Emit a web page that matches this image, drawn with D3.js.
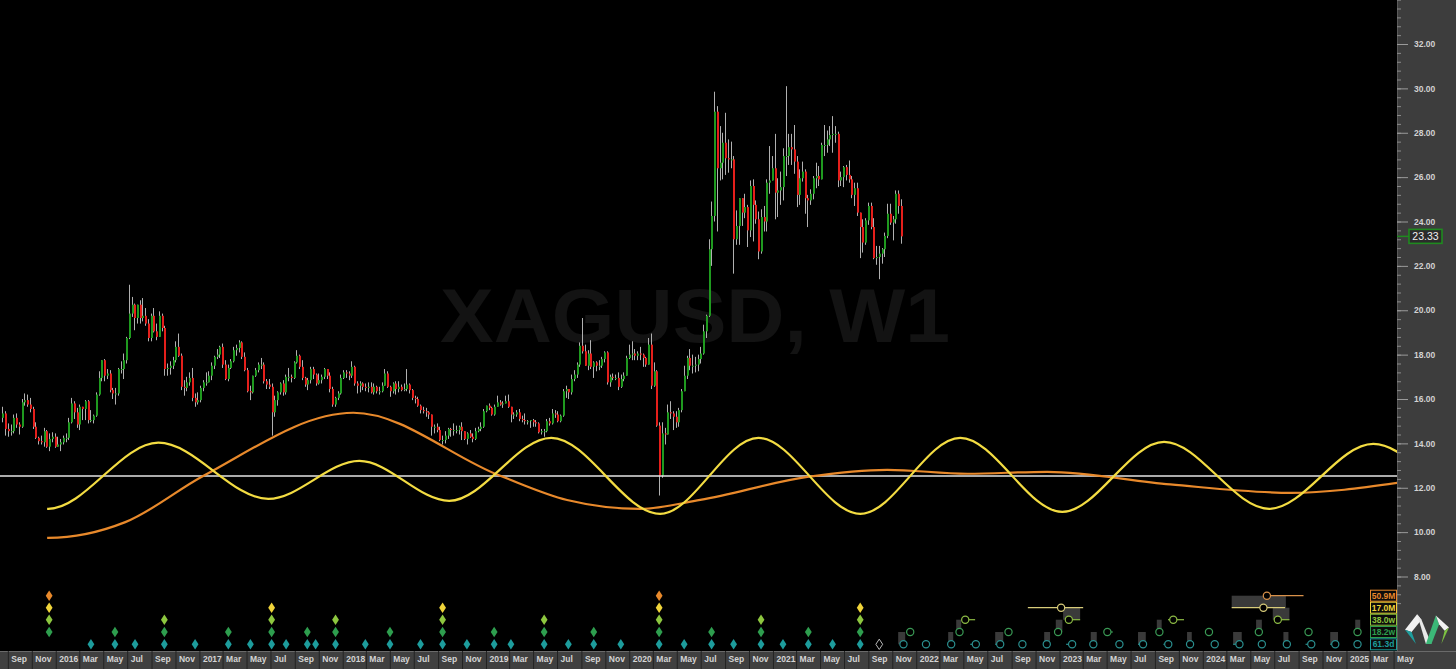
<!DOCTYPE html>
<html>
<head>
  <meta charset="utf-8" />
  <title>XAGUSD, W1</title>
  <script src="https://d3js.org/d3.v7.min.js"></script>
</head>
<body>
  <div id='graph'></div>
</body>
<style>
  body { margin: 0; background: #000; overflow: hidden; }
  svg { display: block; }
  text { font-family: 'Liberation Sans', Arial, sans-serif; }
</style>
<script>
  // weekly bars, first one is the week of 17 Aug 2015, open = previous close
  const firstOpen = 15.15
  const weekHigh = [
    // 2015
    15.65,15.45,14.90,14.85,15.30,15.35,14.95,16.00,16.25,16.20,16.05,15.65,14.95,14.30,14.35,14.70,14.60,14.45,14.50,14.45,
    // 2016
    14.30,14.20,14.35,14.45,15.15,16.05,15.90,15.60,15.75,15.65,15.95,15.95,15.50,15.30,16.30,17.25,17.75,17.80,17.35,17.30,16.50,16.50,17.40,17.70,18.05,18.80,
    21.15,20.60,20.30,20.20,20.45,20.55,20.10,19.60,19.85,20.10,19.40,19.95,19.85,19.30,17.60,17.70,17.90,18.60,18.95,18.05,16.85,17.00,17.20,17.40,16.25,16.30,
    // 2017
    16.60,16.85,17.20,17.25,17.65,17.95,18.25,18.40,18.50,17.75,17.55,17.80,18.35,18.45,18.65,18.60,18.10,17.40,16.60,17.05,17.40,17.65,17.85,17.65,16.90,16.90,
    16.70,16.15,16.35,16.75,16.85,17.10,17.40,17.10,17.70,18.20,18.00,17.75,17.00,16.95,17.45,17.45,17.15,17.15,17.10,17.40,17.35,17.20,16.55,16.10,16.35,17.10,
    // 2018
    17.30,17.30,17.25,17.70,17.50,16.80,16.80,16.75,16.70,16.75,16.75,16.70,16.60,16.55,16.75,17.35,17.25,16.60,16.75,16.80,16.80,16.65,16.70,17.35,16.70,16.45,
    16.15,16.10,15.75,15.65,15.60,15.45,15.30,14.85,14.90,14.75,14.35,14.55,14.70,14.70,14.90,14.80,14.80,14.95,14.45,14.50,14.60,14.45,14.70,14.75,14.95,15.55,
    // 2019
    15.70,15.80,15.65,15.75,16.15,15.95,15.90,16.15,16.20,15.65,15.40,15.50,15.55,15.25,15.35,15.05,15.05,15.10,15.05,14.95,14.65,14.65,15.10,15.15,15.55,15.50,
    15.45,15.30,16.45,16.60,16.45,17.10,17.30,17.65,18.55,19.65,18.45,18.20,18.65,17.70,17.70,17.75,17.90,18.15,18.15,17.10,17.15,17.10,17.20,17.10,17.20,17.95,18.45,
    // 2020
    18.60,18.25,18.15,18.35,18.05,17.90,18.75,18.95,17.65,17.30,14.95,14.95,14.70,15.75,15.90,15.45,15.45,15.60,16.45,17.50,17.95,18.25,18.00,17.90,18.00,18.35,
    19.35,19.80,23.20,24.90,29.85,29.20,28.30,28.00,28.90,27.70,27.60,26.95,24.50,25.05,25.05,25.25,24.75,25.85,25.90,24.95,24.45,24.55,24.70,25.90,27.40,26.95,
    // 2021
    27.95,25.95,26.25,27.30,30.10,27.95,27.95,28.35,26.95,26.35,26.70,26.35,25.20,25.45,26.05,26.65,26.50,27.55,28.35,28.10,28.30,28.75,28.30,28.05,
    26.25,26.50,26.55,26.75,26.05,25.75,25.75,24.40,24.10,24.15,24.85,24.85,24.15,22.90,22.90,22.80,23.50,24.80,24.80,24.25,25.40,25.40,25.00
  ]
  const weekLow = [
    // 2015
    14.95,14.35,14.30,14.35,14.45,14.70,14.40,14.70,15.70,15.65,15.40,14.65,14.20,13.95,13.95,13.85,13.80,13.65,14.05,13.80,
    // 2016
    13.85,13.65,13.95,14.05,14.15,14.90,15.10,14.70,14.60,15.05,15.05,14.90,14.95,14.90,15.20,16.15,16.80,16.80,16.90,16.30,16.00,15.75,16.15,17.15,16.90,17.60,
    18.70,19.70,19.10,19.40,19.40,19.50,19.30,18.60,18.60,19.00,18.65,18.80,19.05,17.05,17.05,17.10,17.35,17.65,17.90,16.40,16.15,16.35,16.60,15.90,15.65,15.75,
    // 2017
    15.85,16.35,16.60,16.90,16.85,17.35,17.80,17.85,17.40,16.85,16.80,17.35,17.65,17.95,18.10,17.80,17.25,16.30,15.95,16.25,17.00,17.20,17.35,16.70,16.45,16.45,
    14.35,15.20,15.70,16.20,16.15,16.20,16.80,16.75,16.90,17.60,17.35,16.85,16.55,16.40,16.70,16.90,16.60,16.65,16.70,16.90,16.90,16.30,15.65,15.65,15.95,16.20,
    // 2018
    16.90,16.95,16.85,16.95,16.60,16.25,16.30,16.40,16.35,16.30,16.25,16.20,16.25,16.20,16.30,16.60,16.50,16.10,16.25,16.20,16.30,16.35,16.35,16.35,16.25,15.95,
    15.80,15.65,15.35,15.35,15.20,15.10,14.35,14.45,14.50,14.10,13.95,14.00,14.20,14.30,14.35,14.45,14.40,14.15,14.15,13.95,14.25,14.05,14.15,14.50,14.55,14.70,
    // 2019
    15.40,15.50,15.25,15.25,15.65,15.70,15.60,15.80,15.60,14.95,15.10,15.20,15.00,14.95,14.85,14.85,14.70,14.75,14.75,14.45,14.40,14.30,14.50,14.80,14.85,15.15,
    14.95,14.95,15.20,16.05,16.00,16.20,16.80,16.95,17.45,18.05,17.50,17.30,17.35,16.95,17.25,17.30,17.40,17.65,16.65,16.55,16.85,16.85,16.40,16.50,16.80,17.05,17.80,
    // 2020
    17.75,17.75,17.75,17.75,17.45,17.45,17.55,16.45,16.55,14.75,11.65,12.45,13.95,14.40,15.10,14.60,14.70,14.75,15.40,16.50,16.90,17.30,17.15,17.20,17.25,17.60,
    18.00,18.75,19.70,22.00,24.00,23.55,25.85,25.90,26.10,26.20,26.40,21.65,22.95,22.95,23.80,24.15,22.85,23.30,23.10,23.90,22.30,22.55,23.55,23.55,25.25,25.85,
    // 2021
    24.10,24.20,24.75,24.95,26.05,26.55,26.55,26.15,24.65,24.75,25.80,24.35,23.75,24.75,25.00,25.50,25.60,25.90,26.95,27.10,27.40,27.10,27.55,25.55,
    25.60,25.55,25.85,25.75,25.05,24.70,24.25,22.35,22.60,22.95,23.85,23.65,22.30,22.05,21.40,22.10,22.40,23.25,23.85,23.15,23.90,24.35,23.00
  ]
  const weekClose = [
    // 2015
    15.35,14.65,14.55,14.55,15.15,14.85,14.75,15.85,15.95,15.75,15.55,14.75,14.25,14.10,14.05,14.55,13.85,14.20,14.30,13.85,
    // 2016
    13.95,14.05,14.25,14.25,14.95,15.80,15.40,14.85,15.65,15.55,15.90,15.05,15.05,15.25,16.20,16.95,17.75,17.05,17.15,16.40,16.25,16.25,17.35,17.35,17.75,18.75,
    19.85,20.25,19.65,20.25,19.65,19.75,19.40,18.75,19.75,19.05,18.80,19.75,19.20,17.35,17.40,17.50,17.75,18.35,17.95,16.55,16.50,16.75,16.95,16.05,15.85,15.95,
    // 2017
    16.50,16.75,16.75,17.05,17.50,17.90,18.00,18.35,17.55,16.90,17.40,17.70,18.20,18.30,18.55,17.90,17.30,16.35,16.30,17.05,17.30,17.55,17.55,16.80,16.65,16.55,
    15.40,15.95,16.30,16.70,16.30,17.00,17.00,16.95,17.65,17.95,17.45,16.95,16.65,16.85,17.35,17.10,16.70,16.85,17.00,17.35,17.05,16.45,15.75,16.05,16.25,16.95,
    // 2018
    17.20,17.15,17.05,17.45,16.70,16.60,16.70,16.55,16.50,16.55,16.30,16.55,16.35,16.35,16.60,17.15,16.55,16.35,16.70,16.45,16.55,16.40,16.45,16.65,16.40,16.05,
    16.00,15.70,15.50,15.45,15.40,15.30,14.75,14.75,14.60,14.15,14.15,14.35,14.65,14.60,14.60,14.60,14.75,14.55,14.20,14.45,14.30,14.20,14.55,14.65,14.75,15.45,
    // 2019
    15.70,15.60,15.30,15.65,15.85,15.75,15.80,15.90,15.65,15.30,15.30,15.40,15.10,15.05,15.00,15.00,15.05,14.95,14.90,14.50,14.55,14.55,15.00,14.90,15.35,15.30,
    15.00,15.25,16.35,16.45,16.30,16.90,17.10,17.55,18.40,18.15,17.50,18.05,17.45,17.65,17.50,17.50,17.80,18.10,16.75,17.00,16.95,16.95,16.55,16.90,17.05,17.85,18.00,
    // 2020
    18.05,17.95,18.05,18.00,17.85,17.55,18.45,16.60,17.25,14.80,12.55,14.45,14.40,15.40,15.35,15.20,14.95,15.50,16.35,17.05,17.85,17.50,17.50,17.55,17.80,18.05,
    19.05,19.75,22.75,24.25,28.95,26.40,26.65,27.55,26.85,26.80,26.80,23.20,23.80,25.05,24.40,24.65,23.60,25.60,24.75,24.10,22.65,24.20,24.00,25.75,25.85,26.40,
    // 2021
    25.30,25.40,25.55,26.95,26.95,27.35,27.25,26.70,25.20,25.95,26.25,25.05,24.95,25.25,25.95,26.05,25.90,27.45,27.45,27.70,27.90,27.95,27.95,25.85,
    26.00,26.45,26.10,25.90,25.20,25.50,24.40,23.75,23.05,24.05,24.70,23.75,22.35,22.40,22.55,22.75,23.35,24.35,23.95,24.10,25.25,24.70,23.33
  ]
  const lastPrice = 23.33
  const baseLevel = 12.53

  // cycle curves, [decimal year, price] read at start, peaks and troughs
  const yellowCycle = [
    [2015.940, 11.05], [2015.947, 11.05], [2016.714, 14.03], [2017.481, 11.50], [2018.116, 13.21], [2018.743, 11.41],
    [2019.455, 14.25], [2020.215, 10.82], [2020.899, 14.25], [2021.610, 10.82], [2022.307, 14.25],
    [2023.019, 10.91], [2023.730, 14.07], [2024.462, 11.05], [2025.187, 13.98], [2025.750, 11.00]
  ]
  const orangeCycle = [
    [2015.940, 9.74], [2015.947, 9.74], [2016.484, 10.45], [2017.029, 12.54], [2018.074, 15.38], [2019.099, 12.54],
    [2019.566, 11.45], [2020.075, 11.05], [2020.494, 11.45], [2021.240, 12.49], [2021.798, 12.81],
    [2022.356, 12.63], [2022.914, 12.72], [2023.773, 12.15], [2024.616, 11.77], [2025.355, 12.22]
  ]

  const priceTicks = [8, 10, 12, 14, 16, 18, 20, 22, 24, 26, 28, 30, 32]
  const minorStep = 0.4
  const lastAxisMonth = '2025-05-01'

  // cycle legend, top row to bottom row
  const cycleLabels = ['50.9M', '17.0M', '38.0w', '18.2w', '61.3d']
  const cycleColors = ['#e8892b', '#f0d43a', '#8dc63f', '#2e9e4e', '#1d9c9c']
  const projColors = ['#d8914a', '#d8cc7a', '#8dbb45', '#3a9a55', '#2a8f8f']

  // cycle troughs (diamonds), decimal years
  const orangeTroughs = [2015.954, 2020.208]
  const yellowTroughs = [2015.954, 2017.504, 2018.697, 2020.208, 2021.609]
  const ygTroughs = [2015.954, 2016.756, 2017.504, 2017.950, 2018.697, 2019.406, 2020.208, 2020.917, 2021.609]
  const greenTroughs = [2015.954, 2016.412, 2016.756, 2017.202, 2017.504, 2017.753, 2017.950, 2018.330, 2018.697,
    2019.057, 2019.406, 2019.752, 2020.208, 2020.573, 2020.917, 2021.247, 2021.609]
  const tealTroughs = [2016.245, 2016.412, 2016.552, 2016.756, 2016.970, 2017.202, 2017.356, 2017.504, 2017.605,
    2017.753, 2017.811, 2017.950, 2018.158, 2018.330, 2018.543, 2018.697, 2018.867, 2019.057, 2019.174,
    2019.406, 2019.575, 2019.752, 2019.941, 2020.208, 2020.382, 2020.573, 2020.726, 2020.917, 2021.070,
    2021.247, 2021.416, 2021.609]
  const openTrough = [2021.742]

  // projected troughs: [centre, line from, line to]
  const orangeProj = [[2024.446, 2024.446, 2024.701]]
  const yellowProj = [[2023.011, 2022.779, 2023.165], [2024.422, 2024.201, 2024.573]]
  const ygProj = [[2022.342, 2022.342, 2022.411], [2023.065, 2023.065, 2023.144], [2023.794, 2023.757, 2023.869], [2024.522, 2024.522, 2024.603]]
  const greenProj = [[2021.958], [2022.302], [2022.644], [2022.990], [2023.334, 2023.334, 2023.372], [2023.697],
    [2024.043], [2024.390], [2024.736], [2025.077]]
  const tealProj = [[2021.911], [2022.068], [2022.244], [2022.416, 2022.377, 2022.416], [2022.586, 2022.551, 2022.586],
    [2022.741], [2022.911], [2023.088, 2023.046, 2023.088], [2023.236], [2023.418], [2023.583, 2023.548, 2023.583],
    [2023.759, 2023.725, 2023.759], [2023.911], [2024.083], [2024.255, 2024.211, 2024.255], [2024.411], [2024.585],
    [2024.755, 2024.715, 2024.755], [2024.922, 2024.887, 2024.922], [2025.077]]
  // projection ranges: [from, to, row]
  const projRanges = [
    [2021.874, 2021.923, 3], [2022.223, 2022.258, 3], [2022.279, 2022.314, 2], [2022.551, 2022.607, 3],
    [2022.893, 2022.934, 3], [2022.974, 2023.020, 2], [2023.025, 2023.144, 1], [2023.218, 2023.260, 3],
    [2023.548, 2023.602, 3], [2023.679, 2023.713, 2], [2023.890, 2023.923, 3], [2024.201, 2024.578, 0],
    [2024.487, 2024.603, 1], [2024.211, 2024.271, 3], [2024.371, 2024.411, 2], [2024.561, 2024.596, 3],
    [2024.887, 2024.941, 3], [2025.061, 2025.096, 2]
  ]

  // layout
  var W = 1456, H = 669
  var plotRight = 1397, axisTop = 651
  var rowY = [595.7, 607.7, 619.7, 632, 644.3]

  const xScale = d3.scaleTime().domain([new Date(2015, 7, 12), new Date(2025, 9, 7)]).range([0, W])
  const yScale = d3.scaleLinear().domain([8, 32]).range([576.5, 44])

  // decimal year -> Date
  function yr (v) {
    const y0 = Math.floor(v)
    const a = new Date(y0, 0, 1), b = new Date(y0 + 1, 0, 1)
    return new Date(+a + (v - y0) * (b - a))
  }

  const svg = d3.select('#graph').append('svg')
    .attr('width', W)
    .attr('height', H)
    .style('background', '#000')

  svg.append('clipPath').attr('id', 'plot')
    .append('rect').attr('x', 0).attr('y', 0).attr('width', plotRight).attr('height', axisTop)

  // watermark
  svg.append('text')
    .attr('x', 440).attr('y', 342)
    .attr('font-size', 76).attr('font-weight', 'bold')
    .attr('textLength', 510).attr('lengthAdjust', 'spacingAndGlyphs')
    .attr('fill', '#131313')
    .text('XAGUSD, W1')

  // candles
  const candles = weekClose.map(function (c, i) {
    const o = i === 0 ? firstOpen : weekClose[i - 1]
    return {
      date: new Date(2015, 7, 17 + 7 * i + 1),
      open: o,
      close: c,
      high: Math.max(weekHigh[i], o, c),
      low: Math.min(weekLow[i], o, c)
    }
  })

  const cg = svg.append('g').attr('clip-path', 'url(#plot)')
  cg.selectAll('line.wick')
    .data(candles)
    .enter()
    .append('line')
    .attr('class', 'wick')
    .attr('x1', d => Math.round(xScale(d.date)) + 0.5)
    .attr('x2', d => Math.round(xScale(d.date)) + 0.5)
    .attr('y1', d => yScale(d.high))
    .attr('y2', d => yScale(d.low))
    .attr('stroke', '#b0b0b0')
    .attr('stroke-width', 1)

  cg.selectAll('rect.body')
    .data(candles)
    .enter()
    .append('rect')
    .attr('class', 'body')
    .attr('x', d => Math.round(xScale(d.date)))
    .attr('width', 2)
    .attr('y', d => yScale(Math.max(d.open, d.close)))
    .attr('height', d => Math.max(1, Math.abs(yScale(d.open) - yScale(d.close))))
    .attr('fill', d => d.close >= d.open ? '#1f9a1f' : '#e51f1b')

  // reference level
  svg.append('line')
    .attr('x1', 0).attr('x2', plotRight)
    .attr('y1', yScale(baseLevel)).attr('y2', yScale(baseLevel))
    .attr('stroke', '#e4e4e4').attr('stroke-width', 1.5)

  // cycle curves
  const line = d3.line()
    .x(d => xScale(yr(d[0])))
    .y(d => yScale(d[1]))
    .curve(d3.curveMonotoneX)

  svg.append('path')
    .datum(orangeCycle)
    .attr('clip-path', 'url(#plot)')
    .attr('d', line)
    .attr('fill', 'none')
    .attr('stroke', '#e8892b')
    .attr('stroke-width', 2.2)

  svg.append('path')
    .datum(yellowCycle)
    .attr('clip-path', 'url(#plot)')
    .attr('d', line)
    .attr('fill', 'none')
    .attr('stroke', '#f3dc42')
    .attr('stroke-width', 2.2)

  // cycle trough diamonds
  function diamond (cx, cy) {
    return `M${cx},${cy - 5.2}L${cx + 3.4},${cy}L${cx},${cy + 5.2}L${cx - 3.4},${cy}Z`
  }
  const troughRows = [orangeTroughs, yellowTroughs, ygTroughs, greenTroughs, tealTroughs]
  troughRows.forEach(function (list, r) {
    svg.append('g').selectAll('path')
      .data(list)
      .enter()
      .append('path')
      .attr('d', d => diamond(xScale(yr(d)), rowY[r]))
      .attr('fill', cycleColors[r])
  })
  svg.append('g').selectAll('path')
    .data(openTrough)
    .enter()
    .append('path')
    .attr('d', d => diamond(xScale(yr(d)), rowY[4]))
    .attr('fill', 'none')
    .attr('stroke', '#b8b8b8')
    .attr('stroke-width', 1)

  // projection ranges
  svg.append('g').selectAll('rect')
    .data(projRanges)
    .enter()
    .append('rect')
    .attr('x', d => xScale(yr(d[0])))
    .attr('width', d => xScale(yr(d[1])) - xScale(yr(d[0])))
    .attr('y', d => rowY[d[2]])
    .attr('height', d => rowY[d[2] + 1] - rowY[d[2]])
    .attr('fill', '#3a3a3a')

  // projected troughs
  const projRows = [orangeProj, yellowProj, ygProj, greenProj, tealProj]
  projRows.forEach(function (list, r) {
    const g = svg.append('g')
    g.selectAll('line')
      .data(list.filter(d => d.length === 3))
      .enter()
      .append('line')
      .attr('x1', d => xScale(yr(d[1])))
      .attr('x2', d => xScale(yr(d[2])))
      .attr('y1', rowY[r]).attr('y2', rowY[r])
      .attr('stroke', projColors[r])
      .attr('stroke-width', 1.2)
    g.selectAll('circle')
      .data(list)
      .enter()
      .append('circle')
      .attr('cx', d => xScale(yr(d[0])))
      .attr('cy', rowY[r])
      .attr('r', 3.6)
      .attr('fill', '#000')
      .attr('stroke', projColors[r])
      .attr('stroke-width', 1.2)
  })

  // cycle legend boxes
  const lg = svg.append('g')
  lg.selectAll('rect')
    .data(cycleLabels)
    .enter()
    .append('rect')
    .attr('x', 1370.5)
    .attr('y', (d, i) => rowY[i] - 5.5)
    .attr('width', 26)
    .attr('height', 11)
    .attr('fill', '#0c0c0c')
    .attr('stroke', (d, i) => cycleColors[i])
    .attr('stroke-width', 1)
  lg.selectAll('text')
    .data(cycleLabels)
    .enter()
    .append('text')
    .attr('x', 1383.5)
    .attr('y', (d, i) => rowY[i] + 3)
    .attr('text-anchor', 'middle')
    .attr('font-size', 8.5)
    .attr('font-weight', 'bold')
    .attr('fill', (d, i) => cycleColors[i])
    .text(d => d)

  // right price panel
  svg.append('rect')
    .attr('x', plotRight).attr('y', 0)
    .attr('width', W - plotRight).attr('height', axisTop)
    .attr('fill', '#3d3d3d')
  svg.append('line')
    .attr('x1', plotRight + 0.5).attr('x2', plotRight + 0.5)
    .attr('y1', 0).attr('y2', axisTop)
    .attr('stroke', '#5a5a5a')

  const minorTicks = d3.range(17, 86).map(k => +(k * minorStep).toFixed(1))
  svg.append('g')
    .attr('transform', `translate(${plotRight},0)`)
    .call(d3.axisRight(yScale).tickValues(minorTicks).tickSize(4).tickFormat(''))
    .call(g => g.select('.domain').remove())
    .call(g => g.selectAll('.tick line').attr('stroke', '#8a8a8a'))

  svg.append('g')
    .attr('transform', `translate(${plotRight},0)`)
    .call(d3.axisRight(yScale).tickValues(priceTicks).tickSize(11).tickPadding(6).tickFormat(d3.format('.2f')))
    .call(g => g.select('.domain').remove())
    .call(g => g.selectAll('.tick line').attr('stroke', '#9a9a9a'))
    .call(g => g.selectAll('.tick text')
      .attr('fill', '#d2d2d2')
      .attr('font-size', 8.5)
      .attr('font-weight', 'bold')
      .attr('font-family', "'Liberation Sans', Arial, sans-serif"))

  // last price tag
  svg.append('line')
    .attr('x1', plotRight).attr('x2', 1409)
    .attr('y1', yScale(lastPrice)).attr('y2', yScale(lastPrice))
    .attr('stroke', '#1f8a1f').attr('stroke-width', 1.5)
  svg.append('rect')
    .attr('x', 1409).attr('y', yScale(lastPrice) - 7)
    .attr('width', 33).attr('height', 14)
    .attr('fill', '#2b2b2b')
    .attr('stroke', '#1f8a1f').attr('stroke-width', 1.6)
  svg.append('text')
    .attr('x', 1425.5).attr('y', yScale(lastPrice) + 3.8)
    .attr('text-anchor', 'middle')
    .attr('font-size', 10.5)
    .attr('fill', '#f0f0f0')
    .text(d3.format('.2f')(lastPrice))

  // logo
  const logo = svg.append('g').attr('transform', 'translate(1405,611) scale(1.1)')
  logo.append('path').attr('d', 'M0,17 L11,3 L15,8 L6,19 Z').attr('fill', '#f2f2f2')
  logo.append('path').attr('d', 'M0,17 L6,19 L10,30 Z').attr('fill', '#1e9e9e')
  logo.append('path').attr('d', 'M11,3 L15,8 L24,30 L19,30 Z').attr('fill', '#e8e8e8')
  logo.append('path').attr('d', 'M19,30 L24,30 L31,12 L28,4 Z').attr('fill', '#3cb878')
  logo.append('path').attr('d', 'M28,4 L31,12 L36,18 L40,15 Z').attr('fill', '#f2f2f2')
  logo.append('path').attr('d', 'M36,18 L40,15 L33,30 Z').attr('fill', '#7dc242')

  // time axis band
  svg.append('rect')
    .attr('x', 0).attr('y', axisTop)
    .attr('width', W).attr('height', H - axisTop)
    .attr('fill', '#404040')
  svg.append('line')
    .attr('x1', 0).attr('x2', W)
    .attr('y1', axisTop + 0.5).attr('y2', axisTop + 0.5)
    .attr('stroke', '#6a6a6a')

  const monthTicks = d3.timeMonth.every(2).range(xScale.domain()[0], d3.timeDay.offset(new Date(lastAxisMonth + 'T00:00'), 1))
  svg.append('g')
    .attr('transform', `translate(0,${axisTop})`)
    .call(d3.axisBottom(xScale)
      .tickValues(monthTicks)
      .tickSize(H - axisTop)
      .tickFormat(d => d.getMonth() === 0 ? d3.timeFormat('%Y')(d) : d3.timeFormat('%b')(d)))
    .call(g => g.select('.domain').remove())
    .call(g => g.selectAll('.tick line').attr('stroke', '#222'))
    .call(g => g.selectAll('.tick text')
      .attr('x', 3)
      .attr('y', 5)
      .attr('text-anchor', 'start')
      .attr('fill', '#d4d4d4')
      .attr('font-size', 8.5)
      .attr('font-weight', 'bold')
      .attr('font-family', "'Liberation Sans', Arial, sans-serif"))
</script>
</html>
